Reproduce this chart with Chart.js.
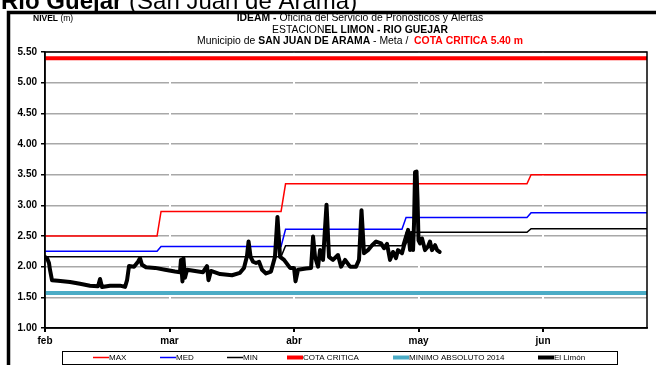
<!DOCTYPE html>
<html>
<head>
<meta charset="utf-8">
<title>Nivel Rio Guejar - El Limón</title>
<script src="https://cdn.jsdelivr.net/npm/chart.js@4.4.1/dist/chart.umd.min.js"></script>
<style>
  html, body { margin: 0; padding: 0; background: #fff; }
  canvas { display: block; }
</style>
</head>
<body>
<canvas id="grafica" width="656" height="365"></canvas>
<script>
const fuente = '"Liberation Sans", Arial, sans-serif';

// eje x en meses contados desde el 1 de febrero
const meses = ['feb', 'mar', 'abr', 'may', 'jun'];
const mesFinal = 4.835;

// niveles de referencia (escalones)
const cambiosMes = [0, 0.90, 0.932, 1.896, 1.932, 2.867, 2.90, 3.871, 3.904, mesFinal];
const nivelMax = [2.50, 2.50, 2.90, 2.90, 3.35, 3.35, 3.35, 3.35, 3.50, 3.50];
const nivelMed = [2.25, 2.25, 2.33, 2.33, 2.61, 2.61, 2.80, 2.80, 2.88, 2.88];
const nivelMin = [2.16, 2.16, 2.16, 2.16, 2.34, 2.34, 2.56, 2.56, 2.62, 2.62];
const cotaCritica = 5.40;
const minimoAbsoluto = 1.57;

// registros de la estacion El Limón
const limonMes = [
  0, 0.016, 0.032, 0.040, 0.056, 0.104, 0.201, 0.281, 0.361, 0.426,
  0.442, 0.458, 0.522, 0.602, 0.643, 0.659, 0.675, 0.715, 0.747, 0.763,
  0.779, 0.811, 0.884, 0.964, 1.044, 1.084, 1.092, 1.104, 1.112, 1.124,
  1.141, 1.205, 1.269, 1.301, 1.313, 1.333, 1.406, 1.502, 1.566, 1.598,
  1.622, 1.635, 1.651, 1.671, 1.695, 1.719, 1.743, 1.775, 1.815, 1.847,
  1.867, 1.888, 1.920, 1.968, 2.000, 2.012, 2.032, 2.096, 2.137, 2.153,
  2.169, 2.193, 2.209, 2.233, 2.261, 2.281, 2.313, 2.353, 2.378, 2.410,
  2.450, 2.498, 2.522, 2.542, 2.562, 2.594, 2.627, 2.659, 2.699, 2.723,
  2.747, 2.771, 2.795, 2.819, 2.835, 2.867, 2.884, 2.900, 2.916, 2.932,
  2.944, 2.956, 2.964, 2.972, 2.984, 2.992, 3.000, 3.012, 3.028, 3.052,
  3.076, 3.092, 3.108, 3.133, 3.149, 3.169
];
const limonNivel = [
  2.16, 2.14, 2.06, 1.95, 1.78, 1.77, 1.75, 1.72, 1.69, 1.68,
  1.80, 1.67, 1.69, 1.69, 1.67, 1.78, 2.01, 2.00, 2.08, 2.14,
  2.03, 1.99, 1.98, 1.95, 1.92, 1.91, 2.11, 1.76, 2.14, 1.82,
  1.95, 1.93, 1.91, 2.01, 1.78, 1.93, 1.88, 1.86, 1.90, 1.98,
  2.17, 2.41, 2.16, 2.08, 2.06, 2.08, 1.95, 1.89, 1.92, 2.16,
  2.81, 2.16, 2.11, 1.98, 1.98, 1.76, 1.95, 1.97, 1.98, 2.49,
  2.16, 2.00, 2.27, 2.11, 3.01, 2.16, 2.11, 2.19, 2.00, 2.11,
  2.00, 2.00, 2.11, 2.92, 2.22, 2.27, 2.35, 2.41, 2.38, 2.30,
  2.37, 2.11, 2.24, 2.14, 2.27, 2.22, 2.35, 2.43, 2.60, 2.27,
  2.55, 2.27, 2.71, 3.54, 3.55, 3.09, 2.43, 2.38, 2.46, 2.27,
  2.33, 2.41, 2.27, 2.35, 2.27, 2.24
];

function puntos(xs, ys) {
  return xs.map((x, i) => ({ x: x, y: ys[i] }));
}

function constante(valor) {
  return [{ x: 0, y: valor }, { x: mesFinal, y: valor }];
}

// escribe varios tramos seguidos (normal / negrita / color) centrados o desde x
function tramos(ctx, partes, x, y, centrado) {
  var ancho = 0;
  partes.forEach(p => {
    ctx.font = p[1] + ' ' + p[2] + 'px ' + fuente;
    ancho += ctx.measureText(p[0]).width;
  });
  var xi = centrado ? x - ancho / 2 : x;
  partes.forEach(p => {
    ctx.font = p[1] + ' ' + p[2] + 'px ' + fuente;
    ctx.fillStyle = p[3] || '#000';
    ctx.fillText(p[0], xi, y);
    xi += ctx.measureText(p[0]).width;
  });
}

const encabezado = {
  id: 'encabezado',
  afterDraw(chart) {
    const ctx = chart.ctx;
    const area = chart.chartArea;
    ctx.save();

    // titulo grande
    ctx.textBaseline = 'alphabetic';
    tramos(ctx, [['Rio Guejar ', 'bold', 24], ['(San Juan de Arama)', 'normal', 24]], 1, 9, false);

    // marco exterior
    ctx.strokeStyle = '#000';
    ctx.lineWidth = 3.5;
    ctx.strokeRect(8.5, 12.5, 700, 400);

    // borde del area de trazado
    ctx.lineWidth = 1.5;
    ctx.strokeRect(area.left, area.top, area.right - area.left, area.bottom - area.top);

    ctx.textBaseline = 'middle';
    tramos(ctx, [['NIVEL', 'bold', 8.5], [' (m)', 'normal', 8.5]], 33, 19, false);
    tramos(ctx, [['IDEAM - ', 'bold', 10.4], ['Oficina del Servicio de Pronósticos y Alertas', 'normal', 10.4]], 360, 18.5, true);
    tramos(ctx, [['ESTACION', 'normal', 10.4], ['EL LIMON - RIO GUEJAR', 'bold', 10.4]], 360, 30, true);
    tramos(ctx, [['Municipio de ', 'normal', 10.4], ['SAN JUAN DE ARAMA', 'bold', 10.4], [' - Meta /  ', 'normal', 10.4],
                 ['COTA CRITICA 5.40 m', 'bold', 10.4, '#ff0000']], 360, 41, true);

    // leyenda
    const inicio = [93, 160, 227, 287, 393, 538];
    const yl = 357.5;
    ctx.lineWidth = 1;
    ctx.strokeStyle = '#000';
    ctx.strokeRect(62.5, 351.5, 555, 13);
    chart.data.datasets.forEach((ds, i) => {
      ctx.beginPath();
      ctx.strokeStyle = ds.borderColor;
      ctx.lineWidth = ds.borderWidth;
      ctx.moveTo(inicio[i], yl);
      ctx.lineTo(inicio[i] + 16, yl);
      ctx.stroke();
      ctx.font = '8px ' + fuente;
      ctx.fillStyle = '#000';
      ctx.fillText(ds.label, inicio[i] + 16, yl + 0.5);
    });
    ctx.restore();
  }
};

Chart.defaults.font.family = fuente;

const grafica = new Chart(document.getElementById('grafica'), {
  type: 'line',
  data: {
    datasets: [
      { label: 'MAX', data: puntos(cambiosMes, nivelMax), borderColor: '#ff0000', borderWidth: 1.5, order: 5 },
      { label: 'MED', data: puntos(cambiosMes, nivelMed), borderColor: '#0000ff', borderWidth: 1.5, order: 4 },
      { label: 'MIN', data: puntos(cambiosMes, nivelMin), borderColor: '#000000', borderWidth: 1.5, order: 3 },
      { label: 'COTA CRITICA', data: constante(cotaCritica), borderColor: '#ff0000', borderWidth: 4, order: 2 },
      { label: 'MINIMO ABSOLUTO 2014', data: constante(minimoAbsoluto), borderColor: '#4bacc6', borderWidth: 4, order: 1 },
      { label: 'El Limón', data: puntos(limonMes, limonNivel), borderColor: '#000000', borderWidth: 4,
        borderJoinStyle: 'round', borderCapStyle: 'round', order: 0 }
    ]
  },
  options: {
    responsive: false,
    animation: false,
    layout: { padding: { top: 52, right: 9, bottom: 17, left: 0 } },
    elements: { point: { radius: 0 }, line: { tension: 0 } },
    plugins: { legend: { display: false }, tooltip: { enabled: false } },
    scales: {
      y: {
        min: 1,
        max: 5.5,
        afterFit: s => { s.width = 45; },
        ticks: {
          stepSize: 0.5,
          color: '#000',
          padding: 4,
          font: { size: 10, weight: 'bold' },
          callback: v => v.toFixed(2)
        },
        grid: { color: '#a8a8a8', lineWidth: 1.5, tickColor: '#000', tickLength: 4, z: -1 },
        border: { color: '#000', width: 1.5 }
      },
      x: {
        type: 'linear',
        min: 0,
        max: mesFinal,
        afterFit: s => { s.height = 20; },
        afterBuildTicks: s => { s.ticks = meses.map((m, i) => ({ value: i })); },
        ticks: {
          autoSkip: false,
          maxRotation: 0,
          color: '#000',
          padding: 3,
          font: { size: 10, weight: 'bold' },
          callback: v => meses[v]
        },
        grid: {
          color: c => c.index === 0 ? 'rgba(0,0,0,0)' : '#ffffff',
          lineWidth: 2,
          tickColor: '#000',
          tickLength: 4
        },
        border: { color: '#000', width: 1.5 }
      }
    }
  },
  plugins: [encabezado]
});
</script>
</body>
</html>
